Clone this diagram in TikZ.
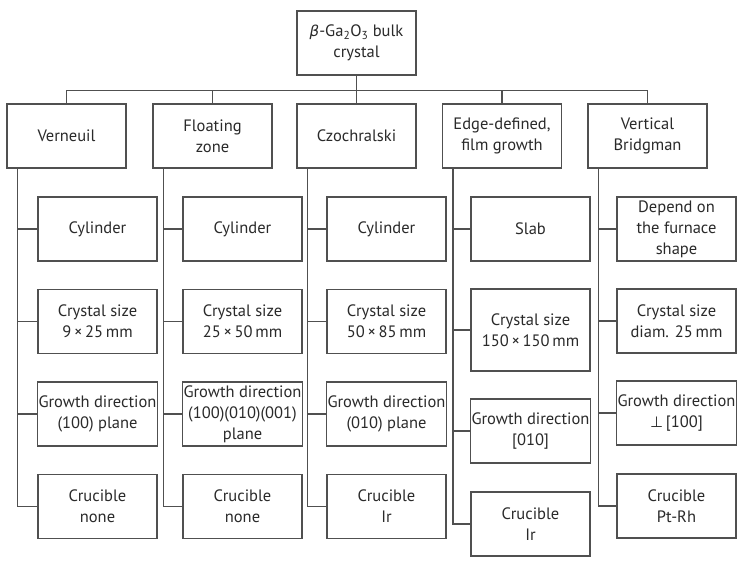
\documentclass[tikz,border=0pt]{standalone}
\usepackage{fontspec}
\setmainfont{PT Sans}
\newfontfamily\symfont{DejaVu Sans}
\usetikzlibrary{calc}
\definecolor{linecol}{HTML}{505050}
\definecolor{txtcol}{HTML}{2A2A2A}
\begin{document}
\begin{tikzpicture}[x=1pt,y=-1pt,
  box/.style={draw=linecol, line width=1.1pt, minimum width=119pt, minimum height=64pt,
    inner sep=1pt, align=center, text=txtcol, font=\fontsize{16.5}{21}\selectfont},
  conn/.style={draw=linecol, line width=1.1pt}]
\useasboundingbox[fill=white] (0,0) rectangle (743,566);
% root
\node[box] (top) at (356.5,43) {{\symfont\itshape\fontsize{15}{21}\selectfont β}-Ga\textsubscript{2}O\textsubscript{3} bulk\\crystal};
% methods
\node[box] (V) at (66.5,136) {Verneuil};
\node[box] (F) at (212.5,136) {Floating\\zone};
\node[box] (C) at (356.5,136) {Czochralski};
\node[box] (E) at (502,136) {Edge-defined,\\film growth};
\node[box] (B) at (647.5,136) {Vertical\\Bridgman};
% Verneuil
\node[box] (V1) at (97.5,229) {Cylinder};
\node[box] (V2) at (97.5,321.5) {Crystal size\\9\,×\,25\,mm};
\node[box] (V3) at (97.5,414) {Growth direction\\(100) plane};
\node[box] (V4) at (97.5,506.5) {Crucible\\none};
% Floating zone
\node[box] (F1) at (242.5,229) {Cylinder};
\node[box] (F2) at (242.5,321.5) {Crystal size\\25\,×\,50\,mm};
\node[box] (F3) at (242.5,414) {Growth direction\\(100)(010)(001)\\plane};
\node[box] (F4) at (242.5,506.5) {Crucible\\none};
% Czochralski
\node[box] (C1) at (386.5,229) {Cylinder};
\node[box] (C2) at (386.5,321.5) {Crystal size\\50\,×\,85\,mm};
\node[box] (C3) at (386.5,414) {Growth direction\\(010) plane};
\node[box] (C4) at (386.5,506.5) {Crucible\\Ir};
% EFG
\node[box] (E1) at (530.5,229) {Slab};
\node[box, minimum height=82pt] (E2) at (530.5,330) {Crystal size\\150\,×\,150\,mm};
\node[box] (E3) at (530.5,431) {Growth direction\\{[}010{]}};
\node[box] (E4) at (530.5,524) {Crucible\\Ir};
% Bridgman
\node[box] (B1) at (676.5,229) {Depend on\\the furnace\\shape};
\node[box] (B2) at (676.5,321) {Crystal size\\diam. 25\,mm};
\node[box] (B3) at (676.5,413) {Growth direction\\{\symfont\fontsize{15}{21}\selectfont ⊥}\,{[}100{]}};
\node[box] (B4) at (676.5,506) {Crucible\\Pt-Rh};
% bus
\coordinate (bus) at ($(top.south)+(0,15)$);
\draw[conn] (top.south) -- (bus);
\draw[conn] (V.north) |- (bus) -| (B.north);
\foreach \h in {F,C,E}{\draw[conn] (\h.north) -- (\h.north |- bus);}
% spines
\foreach \h in {V,F,C,E,B}{
  \coordinate (\h s) at ($(\h.south west)+(11,0)$);
  \draw[conn] (\h s) |- (\h4.west);
  \foreach \i in {1,2,3}{\draw[conn] (\h\i.west) -- (\h\i.west -| \h s);}
}
\end{tikzpicture}
\end{document}
